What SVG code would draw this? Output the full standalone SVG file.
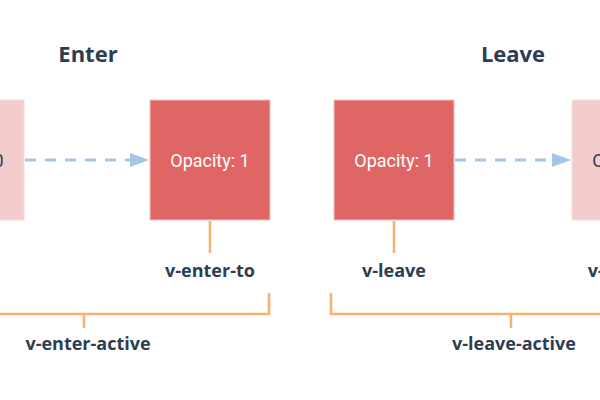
<svg xmlns="http://www.w3.org/2000/svg" width="600" height="400" viewBox="0 0 600 400">
<defs>
<style>
.title{font-family:"Open Sans","Liberation Sans",sans-serif;font-weight:bold;font-size:22px;fill:#2c3e50;text-anchor:middle}
.lbl{font-family:"Open Sans","Liberation Sans",sans-serif;font-weight:bold;font-size:18px;fill:#2c3e50;text-anchor:middle}
.solid{fill:#e06666;stroke:#f3c0c0;stroke-width:1}
.pale{fill:#f4cccc;stroke:#f8dede;stroke-width:1}
.btxt{font-family:Roboto,"Liberation Sans",sans-serif;font-size:18px;text-anchor:middle}
.w{fill:#ffffff}
.d{fill:#2c3e50}
.arrow{fill:none;stroke:#a4c6ea;stroke-width:3;stroke-dasharray:11 9}
.br{fill:none;stroke:#f8b26a;stroke-width:2.5;stroke-linejoin:round}
</style>
<marker id="ah" viewBox="0 0 10 10" refX="10" refY="5" markerUnits="userSpaceOnUse" markerWidth="20" markerHeight="15" orient="auto">
<path d="M0,0 L10,5 L0,10 Z" fill="#a4c6ea"/>
</marker>
</defs>
<rect width="600" height="400" fill="#ffffff"/>
<g id="titles">
<text class="title" x="88" y="62">Enter</text>
<text class="title" x="513" y="62">Leave</text>
</g>
<g id="enter-from">
<rect class="pale" x="-96" y="100" width="120" height="120"/>
<text class="btxt d" x="-36" y="167">Opacity: 0</text>
</g>
<g id="enter-to">
<rect class="solid" x="150" y="100" width="120" height="120"/>
<text class="btxt w" x="210" y="167">Opacity: 1</text>
</g>
<g id="leave-from">
<rect class="solid" x="334" y="100" width="120" height="120"/>
<text class="btxt w" x="394" y="167">Opacity: 1</text>
</g>
<g id="leave-to">
<rect class="pale" x="572" y="100" width="120" height="120"/>
<text class="btxt d" x="632" y="167">Opacity: 0</text>
</g>
<g id="connectors">
<path class="arrow" d="M25,160 L131,160"/>
<path d="M131,160" fill="none"/>
<polygon points="130,153 149,160 130,167" fill="#a4c6ea"/>
<path class="arrow" d="M455,160 L553,160"/>
<polygon points="552,153 571,160 552,167" fill="#a4c6ea"/>
<path class="br" d="M210,221 V253"/>
<path class="br" d="M394,221 V253"/>
<path class="br" d="M-10,314 H269 V293"/>
<path class="br" d="M84,314 V328"/>
<path class="br" d="M331,293 V314 H610"/>
<path class="br" d="M511,314 V328"/>
</g>
<g id="labels">
<text class="lbl" x="210" y="277">v-enter-to</text>
<text class="lbl" x="394" y="277">v-leave</text>
<text class="lbl" x="632" y="277">v-leave-to</text>
<text class="lbl" x="88" y="350">v-enter-active</text>
<text class="lbl" x="514" y="350">v-leave-active</text>
</g>
</svg>
